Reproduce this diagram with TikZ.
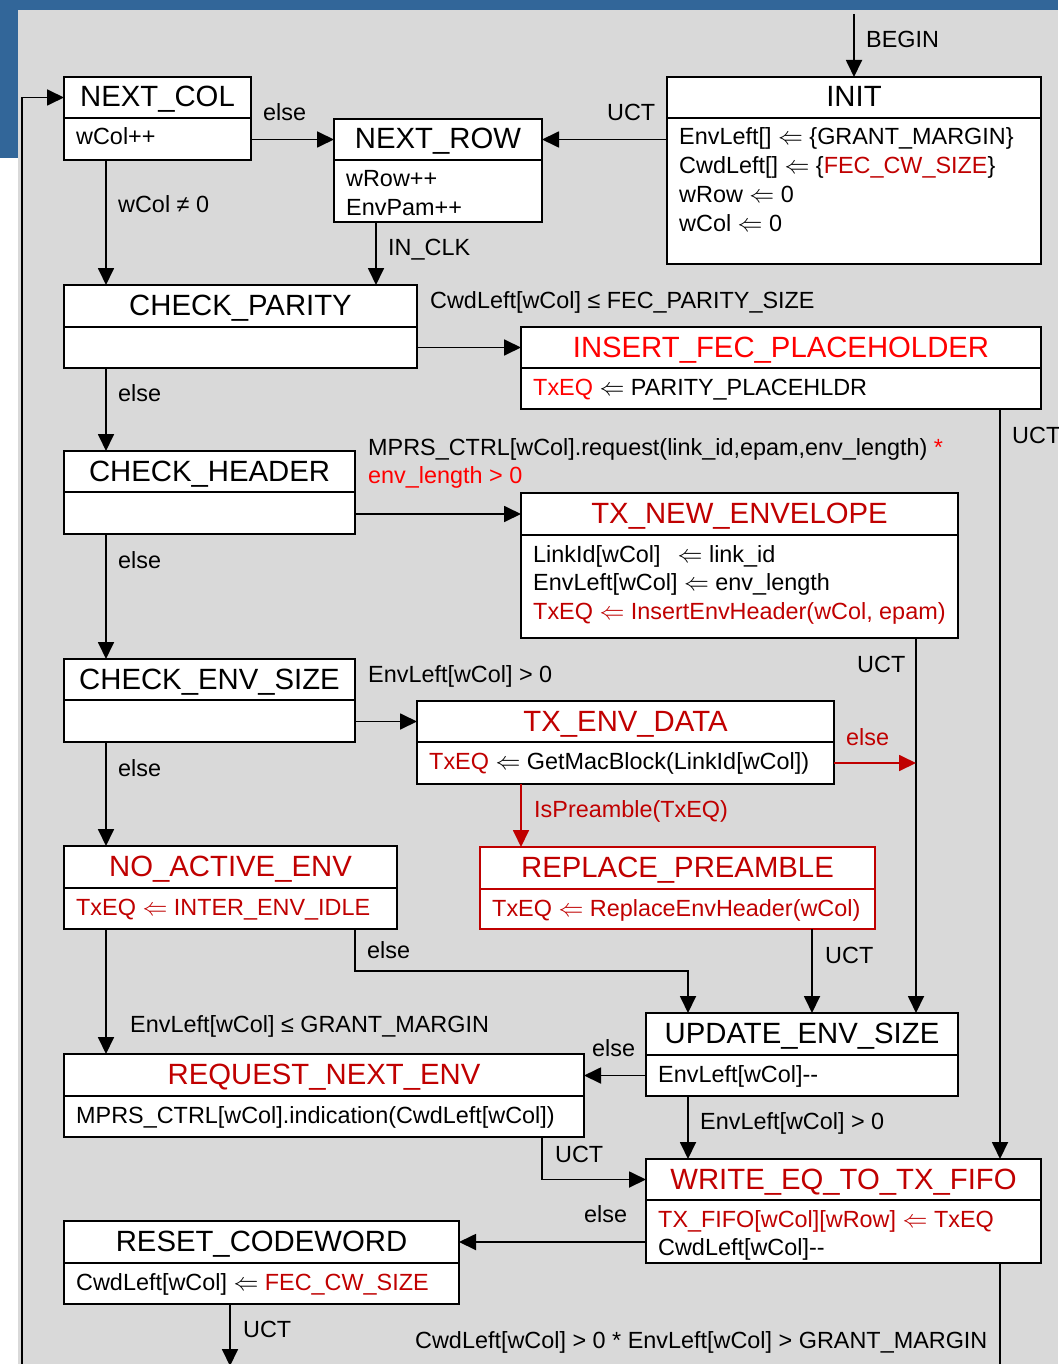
\documentclass[tikz,border=0pt]{standalone}
\usepackage{fontspec}
\setmainfont{Liberation Sans}
\usetikzlibrary{arrows.meta}

\definecolor{bgray}{RGB}{217,217,217}
\definecolor{sblue}{RGB}{50,102,153}
\definecolor{dred}{RGB}{192,0,0}
\definecolor{bred}{RGB}{255,0,0}

\tikzset{
  statebox/.style={rectangle, fill=white, line width=1.8pt, inner sep=0pt, outer sep=0pt, anchor=north west},
  ttl/.style={font=\fontsize{29.3}{34}\selectfont, anchor=base, inner sep=0pt},
  bodyln/.style={font=\fontsize{23.4}{28}\selectfont, anchor=base west, inner sep=0pt},
  lbl/.style={font=\fontsize{23.4}{28}\selectfont, anchor=base west, inner sep=0pt},
  conn/.style={line width=1.8pt, -{Triangle[length=17pt,width=16pt]}},
  plainln/.style={line width=1.8pt},
}

% state: name, x1, y1, x2, divider y, y2, border colour, title colour, title
\newcommand\fsmstate[9]{%
  \node[statebox, draw=#7, minimum width={#4-#2}, minimum height={#6-#3}] (#1) at (#2,#3) {};
  \draw[line width=1.8pt, draw=#7] (#2,#5) -- (#4,#5);
  \coordinate (#1-tb) at ({(#2+#4)/2},{(#3+#5)/2});
  \coordinate (#1-bb) at ({(#2+#4)/2},{(#5+#6)/2});
  \node[ttl, text=#8] (#1-t) at ({(#2+#4)/2},{(#3+#5)/2+9.5}) {#9};
}
% one line of a state's action list: name, x, baseline y, text
\newcommand\bline[4]{\node[bodyln] (#1) at (#2,#3) {#4};}
\newcommand\la{$\Leftarrow$}

\begin{document}
\begin{tikzpicture}[x=1pt,y=-1pt]
% frame
\fill[sblue] (0,0) rectangle (1058,158);
\fill[white] (0,158) rectangle (18,1364);
\fill[bgray] (18,10) rectangle (1058,1364);
\useasboundingbox (0,0) rectangle (1058,1364);

% states
\fsmstate{nextcol}{64}{77}{251}{118}{160}{black}{black}{NEXT\_COL}
\bline{nextcol-1}{76}{145}{wCol++}

\fsmstate{nextrow}{334}{119}{542}{160}{222}{black}{black}{NEXT\_ROW}
\bline{nextrow-1}{346}{187}{wRow++}
\bline{nextrow-2}{346}{215.7}{EnvPam++}

\fsmstate{init}{667}{77}{1041}{118}{264}{black}{black}{INIT}
\bline{init-1}{679}{145}{EnvLeft[] \la{} \{GRANT\_MARGIN\}}
\bline{init-2}{679}{173.7}{CwdLeft[] \la{} \{\textcolor{dred}{FEC\_CW\_SIZE}\}}
\bline{init-3}{679}{202.4}{wRow \la{} 0}
\bline{init-4}{679}{231.1}{wCol \la{} 0}

\fsmstate{chkpar}{64}{285}{417}{327}{368}{black}{black}{CHECK\_PARITY}

\fsmstate{insfec}{521}{327}{1041}{368}{409}{black}{bred}{INSERT\_FEC\_PLACEHOLDER}
\bline{insfec-1}{533}{395}{\textcolor{bred}{TxEQ} \la{} PARITY\_PLACEHLDR}

\fsmstate{chkhdr}{64}{451}{355}{492}{534}{black}{black}{CHECK\_HEADER}

\fsmstate{txnew}{521}{493}{958}{535}{638}{black}{dred}{TX\_NEW\_ENVELOPE}
\bline{txnew-1}{533}{562}{LinkId[wCol]\hspace{0.45em} \la{} link\_id}
\bline{txnew-2}{533}{590.7}{EnvLeft[wCol] \la{} env\_length}
\bline{txnew-3}{533}{619.4}{\color{dred}TxEQ \la{} InsertEnvHeader(wCol, epam)}

\fsmstate{chkenv}{64}{659}{355}{700}{742}{black}{black}{CHECK\_ENV\_SIZE}

\fsmstate{txdata}{417}{701}{834}{742}{784}{black}{dred}{TX\_ENV\_DATA}
\bline{txdata-1}{429}{769}{\textcolor{dred}{TxEQ} \la{} GetMacBlock(LinkId[wCol])}

\fsmstate{replace}{480}{847}{875}{889}{929}{dred}{dred}{REPLACE\_PREAMBLE}
\bline{replace-1}{492}{916}{\color{dred}TxEQ \la{} ReplaceEnvHeader(wCol)}

\fsmstate{noact}{64}{846}{397}{888}{929}{black}{dred}{NO\_ACTIVE\_ENV}
\bline{noact-1}{76}{915}{\color{dred}TxEQ \la{} INTER\_ENV\_IDLE}

\fsmstate{update}{646}{1013}{958}{1055}{1096}{black}{black}{UPDATE\_ENV\_SIZE}
\bline{update-1}{658}{1082}{EnvLeft[wCol]-{}-}

\fsmstate{request}{64}{1054}{584}{1096}{1137}{black}{dred}{REQUEST\_NEXT\_ENV}
\bline{request-1}{76}{1123}{MPRS\_CTRL[wCol].indication(CwdLeft[wCol])}

\fsmstate{write}{646}{1159}{1041}{1200}{1263}{black}{dred}{WRITE\_EQ\_TO\_TX\_FIFO}
\bline{write-1}{658}{1227}{\color{dred}TX\_FIFO[wCol][wRow] \la{} TxEQ}
\bline{write-2}{658}{1255.7}{CwdLeft[wCol]-{}-}

\fsmstate{reset}{64}{1221}{459}{1263}{1304}{black}{black}{RESET\_CODEWORD}
\bline{reset-1}{76}{1290}{CwdLeft[wCol] \la{} \textcolor{dred}{FEC\_CW\_SIZE}}

% routing columns and bends
\coordinate (colA) at (106,0);
\coordinate (colB) at (376,0);
\coordinate (colD) at (916,0);
\coordinate (colE) at (1000,0);
\coordinate (colF) at (521,0);
\coordinate (colG) at (812,0);
\coordinate (colI) at (542,0);
\coordinate (beginpt) at (854,14);
\coordinate (elsebendA) at (355,971);
\coordinate (elsebendB) at (688,971);
\coordinate (resetout) at (230,1366);
\coordinate (loopin) at (22,1364);
\coordinate (loopout) at (1000,1364);

% transitions
\draw[conn] (beginpt) -- (beginpt |- init.north);
\draw[conn] (init.west |- nextrow-tb) -- (nextrow.east |- nextrow-tb);
\draw[conn] (nextcol.east |- nextrow-tb) -- (nextrow.west |- nextrow-tb);
\draw[conn] (nextcol.south -| colA) -- (chkpar.north -| colA);
\draw[conn] (nextrow.south -| colB) -- (chkpar.north -| colB);
\draw[conn] (chkpar.east |- insfec-tb) -- (insfec.west |- insfec-tb);
\draw[conn] (chkpar.south -| colA) -- (chkhdr.north -| colA);
\draw[conn] (insfec.south -| colE) -- (write.north -| colE);
\draw[conn] (chkhdr.east |- txnew-tb) -- (txnew.west |- txnew-tb);
\draw[conn] (chkhdr.south -| colA) -- (chkenv.north -| colA);
\draw[conn] (txnew.south -| colD) -- (update.north -| colD);
\draw[conn] (chkenv.east |- txdata-tb) -- (txdata.west |- txdata-tb);
\draw[conn] (chkenv.south -| colA) -- (noact.north -| colA);
\draw[conn, draw=dred, fill=dred] (txdata.east |- txdata-bb) -- (colD |- txdata-bb);
\draw[conn, draw=dred, fill=dred] (txdata.south -| colF) -- (replace.north -| colF);
\draw[conn] (replace.south -| colG) -- (update.north -| colG);
\draw[conn] (noact.south -| elsebendA) -- (elsebendA) -- (elsebendB) -- (update.north -| elsebendB);
\draw[conn] (noact.south -| colA) -- (request.north -| colA);
\draw[conn] (update.west |- update-bb) -- (request.east |- update-bb);
\draw[conn] (update.south -| elsebendB) -- (write.north -| elsebendB);
\draw[conn] (request.south -| colI) -- (colI |- write-tb) -- (write.west |- write-tb);
\draw[conn] (write.west |- reset-tb) -- (reset.east |- reset-tb);
\draw[conn] (reset.south -| resetout) -- (resetout);
\draw[conn] (loopin) -- (loopin |- nextcol-tb) -- (nextcol.west |- nextcol-tb);
\draw[plainln] (write.south -| loopout) -- (loopout);

% transition labels
\node[lbl] (lbegin) at (866,48) {BEGIN};
\node[lbl] (luctA) at (607,121) {UCT};
\node[lbl] (lelseA) at (263,121) {else};
\node[lbl] (lwcol) at (118,213) {wCol ≠ 0};
\node[lbl] (linclk) at (388,255) {IN\_CLK};
\node[lbl] (lparity) at (430,308) {CwdLeft[wCol] ≤ FEC\_PARITY\_SIZE};
\node[lbl] (lelseB) at (118,401) {else};
\node[lbl] (lmprs) at (368,455) {MPRS\_CTRL[wCol].request(link\_id,epam,env\_length) \textcolor{bred}{*}};
\node[lbl, text=bred] (lenvlen) at (368,483) {env\_length > 0};
\node[lbl] (luctB) at (1012,443) {UCT};
\node[lbl] (lelseC) at (118,568) {else};
\node[lbl] (lenvA) at (368,682) {EnvLeft[wCol] > 0};
\node[lbl] (luctC) at (857,672) {UCT};
\node[lbl, text=dred] (lelseD) at (846,745) {else};
\node[lbl] (lelseE) at (118,776) {else};
\node[lbl, text=dred] (lpre) at (534,817) {IsPreamble(TxEQ)};
\node[lbl] (luctD) at (825,963) {UCT};
\node[lbl] (lelseF) at (367,958) {else};
\node[lbl] (lgrant) at (130,1032) {EnvLeft[wCol] ≤ GRANT\_MARGIN};
\node[lbl] (lelseG) at (592,1056) {else};
\node[lbl] (lenvB) at (700,1129) {EnvLeft[wCol] > 0};
\node[lbl] (luctE) at (555,1162) {UCT};
\node[lbl] (lelseH) at (584,1222) {else};
\node[lbl] (luctF) at (243,1337) {UCT};
\node[lbl] (lloop) at (415,1348) {CwdLeft[wCol] > 0 * EnvLeft[wCol] > GRANT\_MARGIN};
\end{tikzpicture}
\end{document}
